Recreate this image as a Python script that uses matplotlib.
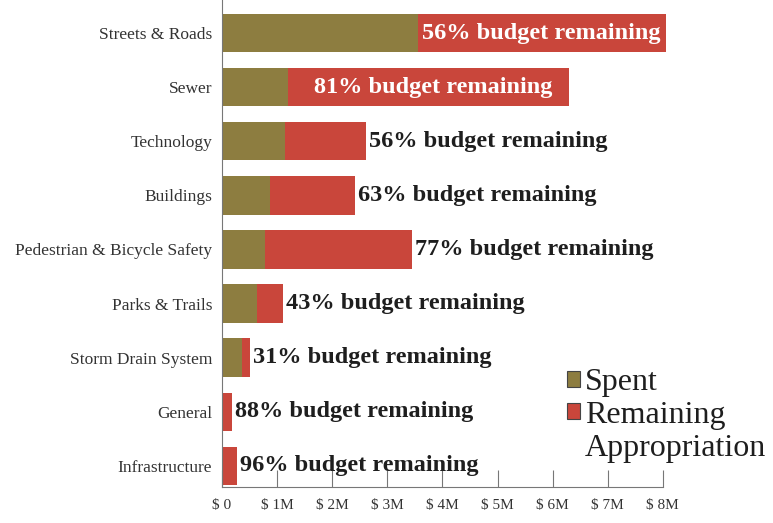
import matplotlib
matplotlib.use("Agg")
import matplotlib.pyplot as plt
from matplotlib.patches import Patch

categories = ["Streets & Roads", "Sewer", "Technology", "Buildings",
              "Pedestrian & Bicycle Safety", "Parks & Trails",
              "Storm Drain System", "General", "Infrastructure"]
spent = [3.55, 1.20, 1.15, 0.88, 0.78, 0.63, 0.36, 0.02, 0.01]
remaining = [4.50, 5.09, 1.47, 1.54, 2.67, 0.48, 0.15, 0.16, 0.26]
pct_remaining = [56, 81, 56, 63, 77, 43, 31, 88, 96]
xticks = [0, 1, 2, 3, 4, 5, 6, 7, 8]
xticklabels = ["$ 0", "$ 1M", "$ 2M", "$ 3M", "$ 4M", "$ 5M", "$ 6M", "$ 7M", "$ 8M"]
inside_label = [True, True, False, False, False, False, False, False, False]

C_SPENT = "#8d7d40"
C_REM = "#c9463b"
SERIF = ["Liberation Serif", "DejaVu Serif"]

plt.rcParams["font.family"] = SERIF

fig = plt.figure(figsize=(7.73, 5.23), dpi=100)
ax = fig.add_axes([222 / 773, 1 - 487 / 523, 1 - 222 / 773, 487 / 523])

y = list(range(len(categories)))
ax.barh(y, spent, height=0.71, color=C_SPENT, label="Spent")
ax.barh(y, remaining, left=spent, height=0.71, color=C_REM, label="Remaining")

for i in y:
    total = spent[i] + remaining[i]
    txt = f"{pct_remaining[i]}% budget remaining"
    if inside_label[i]:
        ax.text(spent[i] + remaining[i] / 2 + (0.08 if i == 1 else 0), i, txt,
                color="white", fontsize=17.5, fontweight="bold",
                ha="center", va="center")
    else:
        ax.text(total + 0.05, i, txt, color="#1e1e1e", fontsize=17.5,
                fontweight="bold", ha="left", va="center")

ax.set_yticks(y)
ax.set_yticklabels(categories, fontsize=12.5, color="#333333")
ax.set_xticks(xticks)
ax.set_xticklabels(xticklabels, fontsize=11, color="#333333")
ax.set_xlim(0, 550 / 55)
ax.set_ylim(8.39, -0.61)

for s in ["top", "right"]:
    ax.spines[s].set_visible(False)
ax.spines["bottom"].set_bounds(0, 8)
ax.spines["left"].set_color("#777777")
ax.spines["bottom"].set_color("#777777")
ax.tick_params(axis="x", direction="in", length=12, width=0.8, color="#777777", pad=9)
ax.tick_params(axis="y", length=0, pad=7)

handles = [Patch(facecolor=C_SPENT, edgecolor="#444444", linewidth=0.8),
           Patch(facecolor=C_REM, edgecolor="#444444", linewidth=0.8),
           Patch(facecolor="none", edgecolor="none")]
ax.legend(handles, ["Spent", "Remaining", "Appropriation"],
          loc="upper left", bbox_to_anchor=((567 - 222) / 551, 1 - 368 / 487),
          frameon=False, fontsize=23, handlelength=0.4, handleheight=0.4,
          handletextpad=0.15, labelspacing=0.12, borderpad=0, borderaxespad=0,
          labelcolor="#1e1e1e")

fig.savefig("out.png", dpi=100)
